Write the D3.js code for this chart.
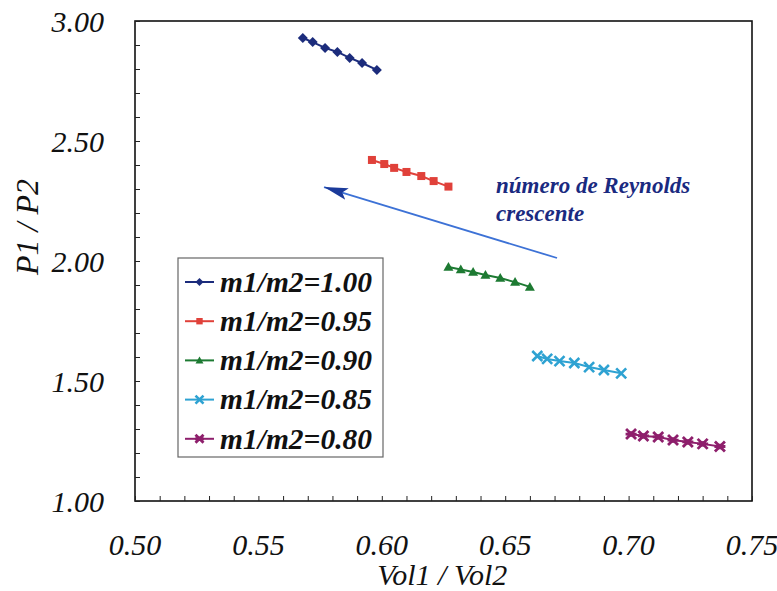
<!DOCTYPE html>
<html>
<head>
<meta charset="utf-8">
<script src="https://cdn.jsdelivr.net/npm/d3@7"></script>
<style>
  html, body { margin: 0; padding: 0; background: #fff; }
  svg { display: block; }
  text { font-family: "Liberation Serif", "Times New Roman", serif; }
</style>
</head>
<body>
<svg id="chart" width="777" height="591"></svg>
<script>
// Pressure ratio vs. volume ratio for several mass ratios
const seriesNames = ["m1/m2=1.00", "m1/m2=0.95", "m1/m2=0.90", "m1/m2=0.85", "m1/m2=0.80"];
const seriesColors = ["#1c2c7c", "#e0413a", "#1d7a32", "#2ea2d2", "#8e1f6c"];
const seriesSymbols = ["diamond", "square", "triangle", "x", "star"];

const volRatio100 = [0.568, 0.572, 0.577, 0.582, 0.587, 0.592, 0.598];
const presRatio100 = [2.929, 2.912, 2.888, 2.871, 2.846, 2.825, 2.796];

const volRatio095 = [0.596, 0.601, 0.605, 0.610, 0.616, 0.621, 0.627];
const presRatio095 = [2.421, 2.404, 2.388, 2.371, 2.354, 2.333, 2.310];

const volRatio090 = [0.627, 0.632, 0.637, 0.642, 0.648, 0.654, 0.660];
const presRatio090 = [1.975, 1.965, 1.954, 1.942, 1.929, 1.912, 1.892];

const volRatio085 = [0.663, 0.667, 0.672, 0.678, 0.684, 0.690, 0.697];
const presRatio085 = [1.604, 1.592, 1.583, 1.575, 1.558, 1.546, 1.532];

const volRatio080 = [0.701, 0.706, 0.712, 0.718, 0.724, 0.730, 0.737];
const presRatio080 = [1.279, 1.271, 1.267, 1.254, 1.246, 1.238, 1.227];

const xTickValues = [0.50, 0.55, 0.60, 0.65, 0.70, 0.75];
const yTickValues = [1.00, 1.50, 2.00, 2.50, 3.00];

// Trend arrow (data coordinates): tail -> head
const arrowFrom = [0.671, 2.0125];
const arrowTo = [0.5766, 2.308];
const noteLines = ["número de Reynolds", "crescente"];

const xs = [volRatio100, volRatio095, volRatio090, volRatio085, volRatio080];
const ys = [presRatio100, presRatio095, presRatio090, presRatio085, presRatio080];
const series = seriesNames.map((name, i) => ({
  name, color: seriesColors[i], symbol: seriesSymbols[i],
  points: xs[i].map((v, j) => [v, ys[i][j]])
}));

const svg = d3.select("#chart");
const margin = { left: 135, top: 21, right: 25, bottom: 90 };
const W = 777, H = 591;
const x = d3.scaleLinear().domain([0.50, 0.75]).range([margin.left, W - margin.right]);
const y = d3.scaleLinear().domain([1.00, 3.00]).range([H - margin.bottom, margin.top]);

// plot frame
svg.append("rect")
  .attr("x", x(0.50)).attr("y", y(3.00))
  .attr("width", x(0.75) - x(0.50)).attr("height", y(1.00) - y(3.00))
  .attr("fill", "#fff").attr("stroke", "#111").attr("stroke-width", 1.6);

// minor ticks pointing inward
const yAxis = d3.axisLeft(y).tickValues(d3.range(1.0, 3.0001, 0.1)).tickSize(-5).tickFormat("");
svg.append("g").attr("transform", `translate(${x(0.5)},0)`).call(yAxis)
  .call(g => g.select(".domain").remove())
  .call(g => g.selectAll("line").attr("stroke", "#222").attr("stroke-width", 1));
const xAxis = d3.axisBottom(x).tickValues(d3.range(0.50, 0.7501, 0.01)).tickSize(-5).tickFormat("");
svg.append("g").attr("transform", `translate(0,${y(1.0)})`).call(xAxis)
  .call(g => g.select(".domain").remove())
  .call(g => g.selectAll("line").attr("stroke", "#222").attr("stroke-width", 1));

// tick labels
svg.append("g").selectAll("text").data(yTickValues).join("text")
  .attr("x", 104).attr("y", d => y(d)).attr("dy", "0.35em")
  .attr("text-anchor", "end").attr("font-style", "italic").attr("font-size", 30)
  .attr("fill", "#111").text(d => d.toFixed(2));
svg.append("g").selectAll("text").data(xTickValues).join("text")
  .attr("x", d => x(d)).attr("y", 555)
  .attr("text-anchor", "middle").attr("font-style", "italic").attr("font-size", 30)
  .attr("fill", "#111").text(d => d.toFixed(2));

// axis titles
svg.append("text").attr("x", x(0.6245)).attr("y", 585)
  .attr("text-anchor", "middle").attr("font-style", "italic").attr("font-size", 30)
  .attr("fill", "#111").text("Vol1 / Vol2");
svg.append("text").attr("transform", "translate(38,227) rotate(-90)")
  .attr("text-anchor", "middle").attr("font-style", "italic").attr("font-size", 32)
  .attr("fill", "#111").text("P1 / P2");

// marker shapes
function drawMarker(g, kind, color, cx, cy, s) {
  if (kind === "diamond") {
    g.append("path").attr("d", `M${cx},${cy - s}L${cx + s},${cy}L${cx},${cy + s}L${cx - s},${cy}Z`).attr("fill", color);
  } else if (kind === "square") {
    g.append("rect").attr("x", cx - s * 0.8).attr("y", cy - s * 0.8).attr("width", s * 1.6).attr("height", s * 1.6).attr("fill", color);
  } else if (kind === "triangle") {
    g.append("path").attr("d", `M${cx},${cy - s}L${cx + s},${cy + s * 0.75}L${cx - s},${cy + s * 0.75}Z`).attr("fill", color);
  } else if (kind === "x") {
    g.append("path").attr("d", `M${cx - s},${cy - s}L${cx + s},${cy + s}M${cx + s},${cy - s}L${cx - s},${cy + s}`)
      .attr("stroke", color).attr("stroke-width", 2.6).attr("fill", "none");
  } else if (kind === "star") {
    g.append("path").attr("d", `M${cx - s},${cy - s}L${cx + s},${cy + s}M${cx + s},${cy - s}L${cx - s},${cy + s}M${cx - s * 1.1},${cy}L${cx + s * 1.1},${cy}`)
      .attr("stroke", color).attr("stroke-width", 2.8).attr("fill", "none");
    g.append("rect").attr("x", cx - s * 0.55).attr("y", cy - s * 0.55).attr("width", s * 1.1).attr("height", s * 1.1).attr("fill", color);
  }
}

const line = d3.line().x(d => x(d[0])).y(d => y(d[1]));
series.forEach(s => {
  const g = svg.append("g");
  g.append("path").attr("d", line(s.points)).attr("fill", "none")
    .attr("stroke", s.color).attr("stroke-width", 2);
  s.points.forEach(p => drawMarker(g, s.symbol, s.color, x(p[0]), y(p[1]), 5));
});

// trend arrow
const defs = svg.append("defs");
defs.append("marker").attr("id", "head").attr("viewBox", "0 0 24 12")
  .attr("refX", 24).attr("refY", 6).attr("markerWidth", 24).attr("markerHeight", 12)
  .attr("markerUnits", "userSpaceOnUse").attr("orient", "auto")
  .append("path").attr("d", "M0,0L24,6L0,12L5,6Z").attr("fill", "#1b3a9a");
svg.append("line")
  .attr("x1", x(arrowFrom[0])).attr("y1", y(arrowFrom[1]))
  .attr("x2", x(arrowTo[0])).attr("y2", y(arrowTo[1]))
  .attr("stroke", "#3d72d6").attr("stroke-width", 1.8).attr("marker-end", "url(#head)");

svg.append("g").selectAll("text").data(noteLines).join("text")
  .attr("x", 496).attr("y", (d, i) => 193 + i * 28)
  .attr("font-style", "italic").attr("font-weight", "bold").attr("font-size", 23)
  .attr("fill", "#1a2a80").text(d => d);

// legend
const legend = svg.append("g");
legend.append("rect").attr("x", 178).attr("y", 258).attr("width", 205).attr("height", 199)
  .attr("fill", "#fff").attr("stroke", "#666").attr("stroke-width", 1.2);
series.forEach((s, i) => {
  const ly = 282 + i * 39.2;
  legend.append("line").attr("x1", 185).attr("x2", 214).attr("y1", ly).attr("y2", ly)
    .attr("stroke", s.color).attr("stroke-width", 2);
  drawMarker(legend, s.symbol, s.color, 199.5, ly, 4);
  legend.append("text").attr("x", 220).attr("y", ly).attr("dy", "0.33em")
    .attr("font-style", "italic").attr("font-weight", "bold").attr("font-size", 29.5)
    .attr("fill", "#111").text(s.name);
});
</script>
</body>
</html>
